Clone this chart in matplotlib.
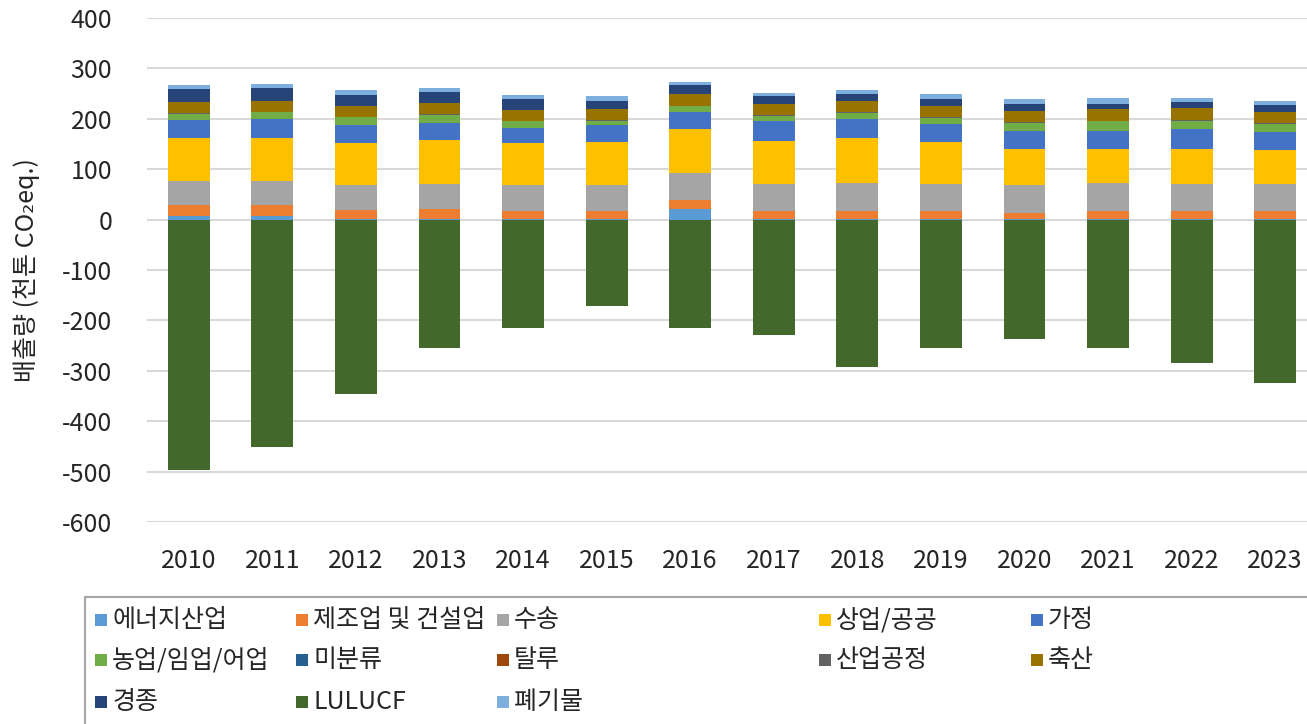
import matplotlib
matplotlib.use("Agg")
import matplotlib.pyplot as plt
from matplotlib.patches import Rectangle
import numpy as np

plt.rcParams['font.family'] = ['Noto Sans CJK KR', 'DejaVu Sans']

years = ['2010', '2011', '2012', '2013', '2014', '2015', '2016',
         '2017', '2018', '2019', '2020', '2021', '2022', '2023']

series_names = ['에너지산업', '제조업 및 건설업', '수송', '상업/공공', '가정',
                '농업/임업/어업', '미분류', '탈루', '산업공정', '축산',
                '경종', 'LULUCF', '폐기물']

energy   = [7.7, 7.7, 0.5, 0.5, 0.5, 0.5, 21.6, 0.5, 0.5, 0.5, 0.5, 0.5, 0.5, 0.5]
manuf    = [22, 22, 18.5, 21, 16, 16, 16.5, 16, 16, 16, 12.5, 16, 16, 16]
transport= [46, 46.5, 49, 49, 51.5, 51.5, 54, 54, 56, 54, 55, 56, 54, 54]
commerce = [86, 86, 83.5, 86.5, 84, 86.5, 87, 86, 90, 84, 72.7, 68, 70, 67.5]
household= [35, 37, 35.5, 35, 29, 32.5, 35, 38.5, 37, 35, 35.1, 35, 38.5, 35]
agri     = [13.5, 14, 16, 16, 14, 8.5, 11, 11, 11.5, 12, 16.2, 19.2, 16, 16.5]
unclass  = [0.2, 0.2, 0.2, 0.2, 0.2, 0.2, 0.2, 0.2, 0.2, 0.2, 0.2, 0.2, 0.2, 0.2]
fugitive = [0.1, 0.1, 0.1, 0.1, 0.1, 0.1, 0.1, 0.1, 0.1, 0.1, 0.1, 0.1, 0.1, 0.1]
industry = [0.5, 0.5, 0.5, 0.5, 1, 2, 0.5, 1.5, 1.5, 1.5, 1.5, 1.5, 1.5, 1]
livestock= [21.5, 21.5, 21, 22, 21.5, 22, 23.5, 22.5, 22.5, 22.5, 22.5, 23, 25.5, 22.8]
crops    = [27.5, 25, 22.5, 22, 21, 15.5, 16.7, 14, 14, 14, 14, 10.6, 10.5, 13.5]
lulucf   = [-497, -451, -346, -255, -215, -172, -215, -229, -292, -255, -237, -255, -285, -324]
waste    = [7.7, 8, 10.5, 8, 8, 9, 7.3, 7.8, 8, 9, 8.7, 11, 8.3, 9]

series_values = [energy, manuf, transport, commerce, household, agri, unclass,
                 fugitive, industry, livestock, crops, lulucf, waste]

colors = ['#5B9BD5', '#ED7D31', '#A5A5A5', '#FFC000', '#4472C4', '#70AD47',
          '#255E91', '#9E480E', '#636363', '#997300', '#264478', '#43682B',
          '#7CAFDD']

ylabel = '배출량 (천톤 CO₂eq.)'
yticks = [400, 300, 200, 100, 0, -100, -200, -300, -400, -500, -600]

W, H = 1307, 724
fig = plt.figure(figsize=(W / 100, H / 100), dpi=100)
ax = fig.add_axes([147 / W, (H - 522) / H, (1317 - 147) / W, (522 - 18) / H])

x = np.arange(len(years))
pos_bottom = np.zeros(len(years))
neg_bottom = np.zeros(len(years))
for name, vals, col in zip(series_names, series_values, colors):
    v = np.array(vals, dtype=float)
    bottom = np.where(v >= 0, pos_bottom, neg_bottom)
    ax.bar(x, v, width=0.5, bottom=bottom, color=col, zorder=3, linewidth=0)
    pos_bottom = pos_bottom + np.where(v >= 0, v, 0)
    neg_bottom = neg_bottom + np.where(v < 0, v, 0)

ax.set_xlim(-0.5, len(years) - 0.5)
ax.set_ylim(-600, 400)
ax.set_yticks(yticks)
ax.set_yticklabels([str(t) for t in yticks])
ax.set_xticks(x)
ax.set_xticklabels(years)
ax.grid(axis='y', color='#D9D9D9', linewidth=1.5, zorder=0)
for s in ax.spines.values():
    s.set_visible(False)
ax.tick_params(axis='both', length=0, labelsize=18, colors='#262626')
ax.tick_params(axis='y', pad=25)
ax.tick_params(axis='x', pad=19)
ax.set_ylabel(ylabel, fontsize=18, color='#262626', labelpad=16)

# Legend (manual layout, clipped like the reference)
box = Rectangle((85 / W, -0.2), 1.2, (H - 597) / H + 0.2, transform=fig.transFigure,
                facecolor='white', edgecolor='#A6A6A6', linewidth=1.5, clip_on=False)
fig.patches.append(box)
col_x = [95, 296, 497, 819, 1031]
row_y = [620, 660, 702]
for i, (name, col) in enumerate(zip(series_names, colors)):
    r, c = divmod(i, 5)
    px, py = col_x[c], row_y[r]
    sq = Rectangle((px / W, (H - py - 6) / H), 12 / W, 12 / H, transform=fig.transFigure,
                   facecolor=col, edgecolor='none')
    fig.patches.append(sq)
    fig.text((px + 17) / W, (H - py) / H, name, fontsize=18, color='#262626',
             va='center', ha='left')

fig.savefig('out.png', dpi=100)
